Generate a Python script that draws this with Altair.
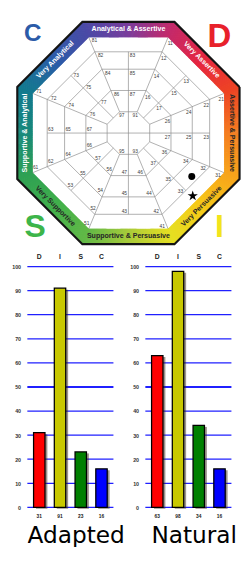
import math
import altair as alt
import pandas as pd

# ---------------- data ----------------
quadrant_letters = ["C", "D", "S", "I"]
quadrant_colors = ["#2b5ba8", "#e8212b", "#3db54a", "#f2e41c"]

sector_names = ["Very Assertive", "Assertive & Persuasive", "Very Persuasive",
                "Supportive & Persuasive", "Very Supportive", "Supportive & Analytical",
                "Very Analytical", "Analytical & Assertive"]
sector_text_dark = [False, True, True, True, True, False, False, False]
sector_cells = [
    [11, 12, 13, 14, 15, 16, 17],
    [21, 22, 23, 24, 25, 26, 27],
    [31, 32, 33, 34, 35, 36, 37],
    [41, 42, 43, 44, 45, 46, 47],
    [51, 52, 53, 54, 55, 56, 57],
    [61, 62, 63, 64, 65, 66, 67],
    [71, 72, 73, 74, 75, 76, 77],
    [81, 82, 83, 84, 85, 86, 87],
]
center_cells = [91, 93, 95, 97]

marker_names = ["Natural", "Adapted"]
marker_x = [65.5, 66.5]
marker_y = [-45.0, -65.0]

categories = ["D", "I", "S", "C"]
adapted_values = [31, 91, 23, 16]
natural_values = [63, 98, 34, 16]
bar_colors = ["#ff0000", "#c8c800", "#008000", "#0000ff"]
y_ticks = [0, 10, 20, 30, 40, 50, 60, 70, 80, 90, 100]

# ---------------- geometry / style ----------------
FONT = "Liberation Sans"
A_OUT, A_IN = 115.0, 99.0
RINGS = [84.0, 66.0, 44.0, 22.0]
COS = math.cos(math.radians(22.5))
STAR = ("M0,-1L0.2245,-0.309L0.951,-0.309L0.363,0.118L0.588,0.809L0,0.382"
        "L-0.588,0.809L-0.363,0.118L-0.951,-0.309L-0.2245,-0.309Z")

band_stops = [(180, "#17897a"), (157.5, "#137a8f"), (135, "#2b5ba8"), (112.5, "#4a4aa6"),
              (90, "#7a3d9c"), (67.5, "#c42a6a"), (45, "#e52540"), (22.5, "#ee4424"),
              (0, "#f47c20"), (-22.5, "#f7a41b"), (-45, "#f6c817"), (-67.5, "#e6df22"),
              (-90, "#a9cb3a"), (-112.5, "#62b947"), (-135, "#41b04b"), (-157.5, "#2fa153"),
              (-180, "#17897a")]


def hex2rgb(h):
    return [int(h[i:i + 2], 16) for i in (1, 3, 5)]


def color_at(ang):
    for (a1, c1), (a2, c2) in zip(band_stops[:-1], band_stops[1:]):
        if a2 <= ang <= a1:
            f = (a1 - ang) / (a1 - a2)
            r1, r2 = hex2rgb(c1), hex2rgb(c2)
            return "#%02x%02x%02x" % tuple(int(round(u + (v - u) * f)) for u, v in zip(r1, r2))
    return band_stops[0][1]


def vertex(A, phi):
    R = A / COS
    return R * math.cos(math.radians(phi)), R * math.sin(math.radians(phi))


def sector_theta(i):
    th = 45 - 45 * i
    return th + 360 if th <= -180 else th


def lerp(p, q, s):
    return (p[0] + (q[0] - p[0]) * s, p[1] + (q[1] - p[1]) * s)


# colour band drawn as many short coloured strokes across it
band_rows = []
M = 90
for i in range(8):
    th = sector_theta(i)
    o1, o2 = vertex(A_OUT, th + 22.5), vertex(A_OUT, th - 22.5)
    n1, n2 = vertex(A_IN, th + 22.5), vertex(A_IN, th - 22.5)
    for j in range(M + 1):
        s = j / M
        p, q = lerp(o1, o2, s), lerp(n1, n2, s)
        ang = math.degrees(math.atan2((p[1] + q[1]) / 2, (p[0] + q[0]) / 2))
        band_rows.append({"x": p[0], "y": p[1], "xe": q[0], "ye": q[1], "c": color_at(ang)})
band_df = pd.DataFrame(band_rows)

border_df = pd.DataFrame([{"o": k, "x": vertex(114.9, 22.5 + 45 * k)[0], "y": vertex(114.9, 22.5 + 45 * k)[1]}
                          for k in range(9)])

# grid segments
segs = []
for A in RINGS:
    for k in range(8):
        segs.append((vertex(A, 22.5 + 45 * k), vertex(A, 22.5 + 45 * (k + 1))))
for k in range(8):
    segs.append((vertex(22.0, 22.5 + 45 * k), vertex(A_IN, 22.5 + 45 * k)))
segs.append(((0.0, -84.0), (0.0, 84.0)))
segs.append(((-84.0, 0.0), (84.0, 0.0)))
for th in (45, 135, -45, -135):
    c, s = math.cos(math.radians(th)), math.sin(math.radians(th))
    segs.append(((22.0 * c, 22.0 * s), (84.0 * c, 84.0 * s)))
grid_df = pd.DataFrame([{"x": p[0], "y": p[1], "xe": q[0], "ye": q[1]} for p, q in segs])

# cell labels
lab_rows = []
ring_for_cell = [(A_IN, True), (84.0, True), (84.0, False), (66.0, True), (66.0, False), (44.0, True), (44.0, False)]
for i, cells in enumerate(sector_cells):
    th = math.radians(sector_theta(i))
    n = (math.cos(th), math.sin(th))
    t = (math.sin(th), -math.cos(th))
    for num, (A, at_vertex) in zip(cells, ring_for_cell):
        if at_vertex:
            px, py = vertex(A, sector_theta(i) + 22.5)
            dt = 6.0
        else:
            px, py = A * n[0], A * n[1]
            dt = 4.2
        dn = 3.0 if A == A_IN else 3.6
        lab_rows.append({"x": px + dt * t[0] - dn * n[0], "y": py + dt * t[1] - dn * n[1], "t": str(num)})
for num, (sx, sy) in zip(center_cells, [(1, 1), (1, -1), (-1, -1), (-1, 1)]):
    lab_rows.append({"x": 7.0 * sx, "y": 19.0 * sy, "t": str(num)})
lab_df = pd.DataFrame(lab_rows)

# band texts
bt_rows = []
for i, name in enumerate(sector_names):
    th = sector_theta(i)
    A = (A_OUT + A_IN) / 2
    ang = 90 - th
    if -180 < th < 0:
        ang -= 180
    ang = ang % 360
    bt_rows.append({"x": A * math.cos(math.radians(th)), "y": A * math.sin(math.radians(th)),
                    "t": name, "a": float(ang), "c": "#262626" if sector_text_dark[i] else "#ffffff"})
bt_df = pd.DataFrame(bt_rows)

letters_df = pd.DataFrame({"t": quadrant_letters, "c": quadrant_colors,
                           "x": [-99.0, 94.0, -96.5, 94.0], "y": [103.5, 99.0, -97.0, -97.0],
                           "s": [25.0, 34.0, 33.0, 33.0]})
markers_df = pd.DataFrame({"name": marker_names, "shape": ["circle", STAR], "x": marker_x, "y": marker_y,
                           "size": [52.0, 125.0]})

# wheel plot area starts 20px right of the page content edge (aligned with the bar
# charts' plot areas); the octagon spills into the space left of it.
xs = alt.Scale(domain=[-104.5, 115.5], nice=False, zero=False)
ys = alt.Scale(domain=[-120.0, 116.0], nice=False, zero=False)


def X(f="x"):
    return alt.X(f + ":Q", scale=xs, axis=None)


def Y(f="y"):
    return alt.Y(f + ":Q", scale=ys, axis=None)


band = alt.Chart(band_df).mark_rule(strokeWidth=1.7).encode(
    x=X(), y=Y(), x2="xe:Q", y2="ye:Q", color=alt.Color("c:N", scale=None))
border = alt.Chart(border_df).mark_line(color="#141414", strokeWidth=2.2).encode(x=X(), y=Y(), order="o:Q")
grid = alt.Chart(grid_df).mark_rule(color="#8c8c8c", strokeWidth=0.7).encode(
    x=X(), y=Y(), x2="xe:Q", y2="ye:Q")
labels = alt.Chart(lab_df).mark_text(fontSize=5, font=FONT, color="#3c3c3c").encode(x=X(), y=Y(), text="t:N")
btext = alt.Chart(bt_df).mark_text(fontSize=7.3, font=FONT, fontWeight="bold", baseline="middle").encode(
    x=X(), y=Y(), text="t:N", angle=alt.Angle("a:Q", scale=None), color=alt.Color("c:N", scale=None))
letters = alt.Chart(letters_df).mark_text(font=FONT, fontWeight="bold", baseline="middle").encode(
    x=X(), y=Y(), text="t:N", color=alt.Color("c:N", scale=None), size=alt.Size("s:Q", scale=None))
markers = alt.Chart(markers_df).mark_point(filled=True, color="black", opacity=1).encode(
    x=X(), y=Y(), shape=alt.Shape("shape:N", scale=None), size=alt.Size("size:Q", scale=None))

wheel = alt.layer(band, border, grid, labels, btext, letters, markers).properties(width=220, height=236)

GW, GH = 89, 249      # grid area of each bar chart (pixels)
PANEL_H = 290         # panel height incl. room for the caption under it


def bar_panel(values, title_text, panel_w, title_x):
    df = pd.DataFrame({"cat": categories, "val": values, "color": bar_colors,
                       "label": [str(v) for v in values]})
    gdf = pd.DataFrame({"tick": y_ticks, "w": [2.2 if t == 50 else 1.3 for t in y_ticks]})
    tdf = pd.DataFrame({"t": [title_text]})
    bx = alt.Scale(domain=categories, paddingInner=0.45, paddingOuter=0.3, range=[0, GW])
    by = alt.Scale(domain=[0, 100], nice=False, range=[GH, 0])
    yaxis = alt.Axis(values=y_ticks, title=None, grid=False, ticks=False, domain=False,
                     labelFontSize=5.5, labelFont=FONT, labelFontWeight="bold", labelColor="#333333",
                     labelPadding=7, minExtent=20, maxExtent=20)
    xaxis = alt.Axis(orient="top", title=None, labelAngle=0, ticks=False, domain=False,
                     labelFontSize=7, labelFont=FONT, labelFontWeight="bold", labelColor="#222222",
                     labelPadding=7, minExtent=14, maxExtent=14)
    xe = alt.X("cat:N", sort=categories, scale=bx, axis=xaxis)
    ye = alt.Y("val:Q", scale=by, axis=None)
    rules = alt.Chart(gdf).mark_rule(color="#2020ff").encode(
        y=alt.Y("tick:Q", scale=by, axis=yaxis), x=alt.value(0), x2=alt.value(GW),
        strokeWidth=alt.StrokeWidth("w:Q", scale=None))
    # drop shadow: same bars on scales shifted by a couple of pixels
    shadow = alt.Chart(df).mark_bar(color="#3a2a1a", opacity=0.5).encode(
        x=alt.X("cat:N", sort=categories, axis=None,
                scale=alt.Scale(domain=categories, paddingInner=0.45, paddingOuter=0.3, range=[2.5, GW + 2.5])),
        y=alt.Y("val:Q", axis=None, scale=alt.Scale(domain=[0, 100], nice=False, range=[GH + 1.5, 1.5])))
    bars = alt.Chart(df).mark_bar(stroke="black", strokeWidth=1.3).encode(
        x=xe, y=ye, color=alt.Color("color:N", scale=None))
    vals = alt.Chart(df).mark_text(fontSize=5, font=FONT, fontWeight="bold", color="#222222").encode(
        x=xe, y=alt.value(GH + 9), text="label:N")
    cap = alt.Chart(tdf).mark_text(fontSize=24, font="DejaVu Sans", color="black", align="center",
                                   baseline="alphabetic", clip=True).encode(
        x=alt.value(title_x), y=alt.value(PANEL_H - 4), text="t:N")
    top_layers = alt.layer(bars, vals, cap)
    return alt.layer(rules, shadow, top_layers).resolve_scale(x="independent", y="independent").properties(
        width=panel_w, height=PANEL_H)


bottom = alt.hconcat(bar_panel(adapted_values, "Adapted", 102, 50.5),
                     bar_panel(natural_values, "Natural", 97, 50.5), spacing=0)

chart = (alt.vconcat(wheel, bottom, spacing=4).properties(padding=0)
         .configure_view(stroke=None, fill="white"))
chart.save("out.html", embed_options={"renderer": "svg", "actions": False})
